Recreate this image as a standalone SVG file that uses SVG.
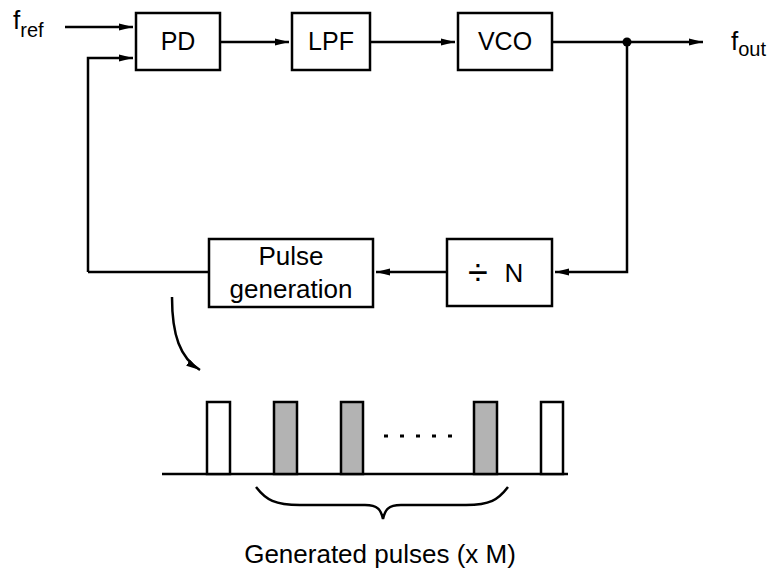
<svg xmlns="http://www.w3.org/2000/svg" width="769" height="571" viewBox="0 0 769 571">
<defs>
<marker id="ah2" viewBox="0 0 14 10" refX="14" refY="5" markerWidth="14" markerHeight="10" markerUnits="userSpaceOnUse" orient="auto">
<path d="M0,1.5 L14,5 L0,8.5 Z" fill="#000"/>
</marker>
</defs>
<style>
.box{fill:#fff;stroke:#000;stroke-width:2.5}
.t{font-family:"Liberation Sans",Arial,sans-serif;font-size:25px;fill:#000}
.l{font-size:26px}
.w{fill:none;stroke:#000;stroke-width:2.5}
.p{stroke:#000;stroke-width:2.5}
</style>
<rect width="769" height="571" fill="#fff"/>
<g id="connectors">
<path class="w" d="M65,27 H133" marker-end="url(#ah2)"/>
<path class="w" d="M88,272 V58 H133" marker-end="url(#ah2)"/>
<path class="w" d="M220,42 H289" marker-end="url(#ah2)"/>
<path class="w" d="M370,42 H455" marker-end="url(#ah2)"/>
<path class="w" d="M552,42 H703" marker-end="url(#ah2)"/>
<circle cx="627" cy="42" r="4.5" fill="#000"/>
<path class="w" d="M627,42 V272 H555" marker-end="url(#ah2)"/>
<path class="w" d="M447,272 H376" marker-end="url(#ah2)"/>
<path class="w" d="M209,272 H88"/>
<path class="w" d="M172,297 C172,335 180,358 200,370" marker-end="url(#ah2)"/>
</g>
<g id="fref"><text class="t l" x="13" y="29">f<tspan style="font-size:20px" dy="8">ref</tspan></text></g>
<g id="fout"><text class="t l" x="731" y="50">f<tspan style="font-size:20px" dy="6">out</tspan></text></g>
<g id="pd"><rect class="box" x="136" y="13" width="84" height="57"/><text class="t" x="178" y="50" text-anchor="middle">PD</text></g>
<g id="lpf"><rect class="box" x="292" y="13" width="78" height="57"/><text class="t" x="331" y="50" text-anchor="middle">LPF</text></g>
<g id="vco"><rect class="box" x="458" y="13" width="94" height="57"/><text class="t" x="505" y="50" text-anchor="middle">VCO</text></g>
<g id="divn"><rect class="box" x="447" y="239" width="105" height="67"/><text class="t" x="478" y="285" text-anchor="middle" style="font-size:36px">÷</text><text class="t l" x="514" y="282" text-anchor="middle">N</text></g>
<g id="pulsegen"><rect class="box" x="209" y="239" width="164" height="68"/><text class="t l" x="291" y="265" text-anchor="middle">Pulse</text><text class="t l" x="291" y="298" text-anchor="middle">generation</text></g>
<g id="pulses">
<path class="w" d="M162,474 H568"/>
<rect class="p" fill="#fff" x="207" y="402" width="23" height="72"/>
<rect class="p" fill="#b3b3b3" x="274" y="402" width="23" height="72"/>
<rect class="p" fill="#b3b3b3" x="341" y="402" width="22" height="72"/>
<rect class="p" fill="#b3b3b3" x="474" y="402" width="23" height="72"/>
<rect class="p" fill="#fff" x="541" y="402" width="22" height="72"/>
<path d="M384,436 H452" stroke="#000" stroke-width="3" stroke-dasharray="4,12" fill="none"/>
<path class="w" stroke-width="2" d="M256,487 C266,500 275,505 300,505 H365 C378,505 381,510 383,519 C385,510 388,505 401,505 H466 C490,505 498,500 508,487"/>
<text class="t l" x="380" y="563" text-anchor="middle">Generated pulses (x M)</text>
</g>
</svg>
